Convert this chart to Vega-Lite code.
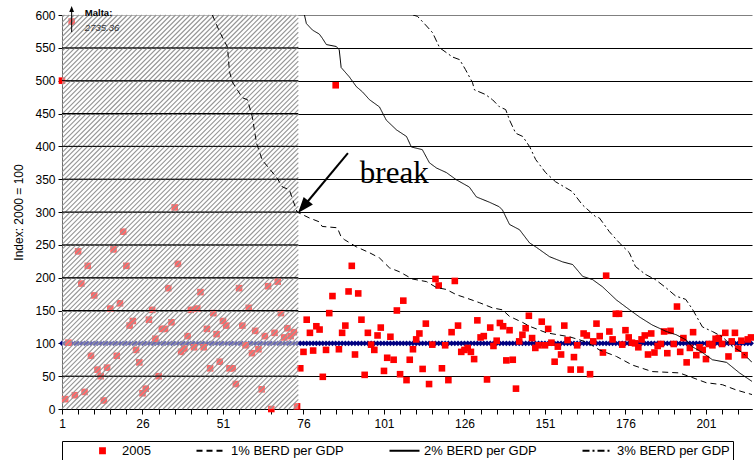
{
  "$schema": "https://vega.github.io/schema/vega-lite/v6.json",
  "width": 690,
  "height": 394,
  "autosize": {"type": "none"},
  "padding": {"left": 62, "top": 15, "right": 2, "bottom": 51},
  "background": "white",
  "config": {
    "font": "Liberation Sans",
    "view": {"stroke": null},
    "axis": {"labelFont": "Liberation Sans", "titleFont": "Liberation Sans", "labelColor": "black", "titleColor": "black"},
    "legend": {"labelFont": "Liberation Sans", "titleFont": "Liberation Sans"}
  },
  "datasets": {
    "pts": [
      {"cat":1,"v":500},{"cat":2,"v":15},{"cat":3,"v":101},{"cat":4,"v":590},{"cat":5,"v":21},{"cat":6,"v":240},{"cat":7,"v":191},{"cat":8,"v":26},{"cat":9,"v":218},{"cat":10,"v":81},
      {"cat":11,"v":173},{"cat":12,"v":60},{"cat":13,"v":50},{"cat":14,"v":13},{"cat":15,"v":63},{"cat":16,"v":153},{"cat":17,"v":243},{"cat":18,"v":81},{"cat":19,"v":161},{"cat":20,"v":270},
      {"cat":21,"v":218},{"cat":22,"v":127},{"cat":23,"v":134},{"cat":24,"v":90},{"cat":25,"v":71},{"cat":26,"v":24},{"cat":27,"v":31},{"cat":28,"v":136},{"cat":29,"v":151},{"cat":30,"v":107},
      {"cat":31,"v":50},{"cat":32,"v":122},{"cat":33,"v":122},{"cat":34,"v":184},{"cat":35,"v":132},{"cat":36,"v":307},{"cat":37,"v":221},{"cat":38,"v":87},{"cat":39,"v":92},{"cat":40,"v":111},
      {"cat":41,"v":151},{"cat":42,"v":94},{"cat":43,"v":153},{"cat":44,"v":178},{"cat":45,"v":94},{"cat":46,"v":122},{"cat":47,"v":62},{"cat":48,"v":146},{"cat":49,"v":114},{"cat":50,"v":72},
      {"cat":51,"v":134},{"cat":52,"v":127},{"cat":53,"v":62},{"cat":54,"v":62},{"cat":55,"v":38},{"cat":56,"v":184},{"cat":57,"v":127},{"cat":58,"v":97},{"cat":59,"v":154},{"cat":60,"v":85},
      {"cat":61,"v":119},{"cat":62,"v":91},{"cat":63,"v":30},{"cat":64,"v":111},{"cat":65,"v":187},{"cat":66,"v":0},{"cat":67,"v":116},{"cat":68,"v":194},{"cat":69,"v":146},{"cat":70,"v":109},
      {"cat":71,"v":123},{"cat":72,"v":111},{"cat":73,"v":117},{"cat":74,"v":4},{"cat":75,"v":62},{"cat":76,"v":87},{"cat":77,"v":136},{"cat":78,"v":116},{"cat":79,"v":89},{"cat":80,"v":126},
      {"cat":81,"v":121},{"cat":82,"v":49},{"cat":83,"v":90},{"cat":84,"v":146},{"cat":85,"v":172},{"cat":86,"v":493},{"cat":87,"v":91},{"cat":88,"v":116},{"cat":89,"v":127},{"cat":90,"v":179},
      {"cat":91,"v":218},{"cat":92,"v":83},{"cat":93,"v":176},{"cat":94,"v":136},{"cat":95,"v":52},{"cat":96,"v":116},{"cat":97,"v":98},{"cat":98,"v":90},{"cat":99,"v":112},{"cat":100,"v":124},
      {"cat":101,"v":58},{"cat":102,"v":78},{"cat":103,"v":110},{"cat":104,"v":75},{"cat":105,"v":150},{"cat":106,"v":53},{"cat":107,"v":165},{"cat":108,"v":44},{"cat":109,"v":75},{"cat":110,"v":91},
      {"cat":111,"v":106},{"cat":112,"v":115},{"cat":113,"v":61},{"cat":114,"v":130},{"cat":115,"v":38},{"cat":116,"v":98},{"cat":117,"v":198},{"cat":118,"v":188},{"cat":119,"v":62},{"cat":120,"v":97},
      {"cat":121,"v":44},{"cat":122,"v":117},{"cat":123,"v":195},{"cat":124,"v":127},{"cat":125,"v":87},{"cat":126,"v":90},{"cat":127,"v":93},{"cat":128,"v":87},{"cat":129,"v":76},{"cat":130,"v":135},
      {"cat":131,"v":109},{"cat":132,"v":111},{"cat":133,"v":45},{"cat":134,"v":124},{"cat":135,"v":96},{"cat":136,"v":104},{"cat":137,"v":131},{"cat":138,"v":126},{"cat":139,"v":74},{"cat":140,"v":120},
      {"cat":141,"v":75},{"cat":142,"v":31},{"cat":143,"v":103},{"cat":144,"v":113},{"cat":145,"v":123},{"cat":146,"v":142},{"cat":147,"v":108},{"cat":148,"v":93},{"cat":149,"v":97},{"cat":150,"v":133},
      {"cat":151,"v":97},{"cat":152,"v":122},{"cat":153,"v":101},{"cat":154,"v":72},{"cat":155,"v":95},{"cat":156,"v":83},{"cat":157,"v":127},{"cat":158,"v":105},{"cat":159,"v":60},{"cat":160,"v":79},
      {"cat":161,"v":97},{"cat":162,"v":60},{"cat":163,"v":115},{"cat":164,"v":112},{"cat":165,"v":53},{"cat":166,"v":103},{"cat":167,"v":130},{"cat":168,"v":111},{"cat":169,"v":86},{"cat":170,"v":203},
      {"cat":171,"v":118},{"cat":172,"v":106},{"cat":173,"v":145},{"cat":174,"v":145},{"cat":175,"v":98},{"cat":176,"v":120},{"cat":177,"v":109},{"cat":178,"v":101},{"cat":179,"v":100},{"cat":180,"v":94},
      {"cat":181,"v":106},{"cat":182,"v":112},{"cat":183,"v":83},{"cat":184,"v":115},{"cat":185,"v":86},{"cat":186,"v":96},{"cat":187,"v":99},{"cat":188,"v":118},{"cat":189,"v":85},{"cat":190,"v":119},
      {"cat":191,"v":99},{"cat":192,"v":156},{"cat":193,"v":87},{"cat":194,"v":108},{"cat":195,"v":71},{"cat":196,"v":93},{"cat":197,"v":117},{"cat":198,"v":82},{"cat":199,"v":94},{"cat":200,"v":90},
      {"cat":201,"v":76},{"cat":202,"v":99},{"cat":203,"v":97},{"cat":204,"v":107},{"cat":205,"v":108},{"cat":206,"v":99},{"cat":207,"v":116},{"cat":208,"v":80},{"cat":209,"v":103},{"cat":210,"v":116},
      {"cat":211,"v":92},{"cat":212,"v":104},{"cat":213,"v":82},{"cat":214,"v":106},{"cat":215,"v":109}
    ],
    "curves": [
      {"s":"1% BERD per GDP","cat":47.7,"v":600},{"s":"1% BERD per GDP","cat":49.9,"v":575},{"s":"1% BERD per GDP","cat":52.4,"v":551},{"s":"1% BERD per GDP","cat":53.0,"v":514},{"s":"1% BERD per GDP","cat":53.9,"v":498},
      {"s":"1% BERD per GDP","cat":57.0,"v":474},{"s":"1% BERD per GDP","cat":58.6,"v":471},{"s":"1% BERD per GDP","cat":60.1,"v":445},{"s":"1% BERD per GDP","cat":61.4,"v":405},{"s":"1% BERD per GDP","cat":63.2,"v":379},
      {"s":"1% BERD per GDP","cat":67.6,"v":353},{"s":"1% BERD per GDP","cat":69.5,"v":338},{"s":"1% BERD per GDP","cat":71.6,"v":334},{"s":"1% BERD per GDP","cat":74.0,"v":300},{"s":"1% BERD per GDP","cat":77.8,"v":291},
      {"s":"1% BERD per GDP","cat":80.9,"v":285},{"s":"1% BERD per GDP","cat":81.8,"v":278},{"s":"1% BERD per GDP","cat":86.5,"v":276},{"s":"1% BERD per GDP","cat":87.7,"v":262},{"s":"1% BERD per GDP","cat":88.7,"v":258},
      {"s":"1% BERD per GDP","cat":92.4,"v":247},{"s":"1% BERD per GDP","cat":96.5,"v":238},{"s":"1% BERD per GDP","cat":99.6,"v":230},{"s":"1% BERD per GDP","cat":102.7,"v":215},{"s":"1% BERD per GDP","cat":105.8,"v":209},
      {"s":"1% BERD per GDP","cat":109.8,"v":198},{"s":"1% BERD per GDP","cat":114.2,"v":194},{"s":"1% BERD per GDP","cat":117.3,"v":185},{"s":"1% BERD per GDP","cat":120.4,"v":182},{"s":"1% BERD per GDP","cat":123.5,"v":174},
      {"s":"1% BERD per GDP","cat":126.6,"v":169},{"s":"1% BERD per GDP","cat":130.6,"v":162},{"s":"1% BERD per GDP","cat":134.7,"v":154},{"s":"1% BERD per GDP","cat":137.8,"v":151},{"s":"1% BERD per GDP","cat":140.0,"v":141},
      {"s":"1% BERD per GDP","cat":144.0,"v":132},{"s":"1% BERD per GDP","cat":146.2,"v":126},{"s":"1% BERD per GDP","cat":151.5,"v":116},{"s":"1% BERD per GDP","cat":158.6,"v":110},{"s":"1% BERD per GDP","cat":163.9,"v":102},
      {"s":"1% BERD per GDP","cat":167.9,"v":90},{"s":"1% BERD per GDP","cat":173.2,"v":80},{"s":"1% BERD per GDP","cat":178.1,"v":67},{"s":"1% BERD per GDP","cat":184.3,"v":57},{"s":"1% BERD per GDP","cat":192.7,"v":55},
      {"s":"1% BERD per GDP","cat":196.7,"v":48},{"s":"1% BERD per GDP","cat":201.1,"v":40},{"s":"1% BERD per GDP","cat":206.1,"v":37},{"s":"1% BERD per GDP","cat":210.4,"v":29},{"s":"1% BERD per GDP","cat":215.3,"v":22},
      {"s":"2% BERD per GDP","cat":76.3,"v":600},{"s":"2% BERD per GDP","cat":76.9,"v":587},{"s":"2% BERD per GDP","cat":78.8,"v":577},{"s":"2% BERD per GDP","cat":80.9,"v":571},{"s":"2% BERD per GDP","cat":81.8,"v":565},
      {"s":"2% BERD per GDP","cat":83.1,"v":555},{"s":"2% BERD per GDP","cat":86.2,"v":552},{"s":"2% BERD per GDP","cat":87.1,"v":547},{"s":"2% BERD per GDP","cat":87.7,"v":520},{"s":"2% BERD per GDP","cat":90.2,"v":506},
      {"s":"2% BERD per GDP","cat":92.4,"v":491},{"s":"2% BERD per GDP","cat":94.3,"v":483},{"s":"2% BERD per GDP","cat":96.5,"v":471},{"s":"2% BERD per GDP","cat":99.6,"v":460},{"s":"2% BERD per GDP","cat":101.7,"v":440},
      {"s":"2% BERD per GDP","cat":104.9,"v":425},{"s":"2% BERD per GDP","cat":108.0,"v":415},{"s":"2% BERD per GDP","cat":109.5,"v":399},{"s":"2% BERD per GDP","cat":112.9,"v":395},{"s":"2% BERD per GDP","cat":115.1,"v":375},
      {"s":"2% BERD per GDP","cat":117.3,"v":367},{"s":"2% BERD per GDP","cat":120.4,"v":360},{"s":"2% BERD per GDP","cat":123.5,"v":349},{"s":"2% BERD per GDP","cat":127.5,"v":338},{"s":"2% BERD per GDP","cat":129.7,"v":323},
      {"s":"2% BERD per GDP","cat":133.7,"v":315},{"s":"2% BERD per GDP","cat":136.8,"v":308},{"s":"2% BERD per GDP","cat":137.8,"v":303},{"s":"2% BERD per GDP","cat":140.0,"v":281},{"s":"2% BERD per GDP","cat":143.1,"v":273},
      {"s":"2% BERD per GDP","cat":146.2,"v":253},{"s":"2% BERD per GDP","cat":148.4,"v":246},{"s":"2% BERD per GDP","cat":152.4,"v":232},{"s":"2% BERD per GDP","cat":156.5,"v":224},{"s":"2% BERD per GDP","cat":159.6,"v":220},
      {"s":"2% BERD per GDP","cat":162.7,"v":202},{"s":"2% BERD per GDP","cat":165.8,"v":197},{"s":"2% BERD per GDP","cat":168.9,"v":186},{"s":"2% BERD per GDP","cat":173.2,"v":166},{"s":"2% BERD per GDP","cat":177.3,"v":151},
      {"s":"2% BERD per GDP","cat":180.4,"v":140},{"s":"2% BERD per GDP","cat":184.3,"v":128},{"s":"2% BERD per GDP","cat":188.7,"v":118},{"s":"2% BERD per GDP","cat":191.8,"v":113},{"s":"2% BERD per GDP","cat":194.9,"v":105},
      {"s":"2% BERD per GDP","cat":196.7,"v":95},{"s":"2% BERD per GDP","cat":199.9,"v":86},{"s":"2% BERD per GDP","cat":203.0,"v":75},{"s":"2% BERD per GDP","cat":207.4,"v":71},{"s":"2% BERD per GDP","cat":211.4,"v":55},
      {"s":"2% BERD per GDP","cat":215.3,"v":42},
      {"s":"3% BERD per GDP","cat":110.0,"v":600},{"s":"3% BERD per GDP","cat":111.4,"v":598},{"s":"3% BERD per GDP","cat":113.9,"v":585},{"s":"3% BERD per GDP","cat":116.1,"v":573},{"s":"3% BERD per GDP","cat":118.3,"v":550},
      {"s":"3% BERD per GDP","cat":122.3,"v":536},{"s":"3% BERD per GDP","cat":124.5,"v":532},{"s":"3% BERD per GDP","cat":126.3,"v":517},{"s":"3% BERD per GDP","cat":128.5,"v":497},{"s":"3% BERD per GDP","cat":129.1,"v":486},
      {"s":"3% BERD per GDP","cat":132.5,"v":479},{"s":"3% BERD per GDP","cat":134.7,"v":471},{"s":"3% BERD per GDP","cat":136.9,"v":460},{"s":"3% BERD per GDP","cat":138.8,"v":456},{"s":"3% BERD per GDP","cat":140.0,"v":440},
      {"s":"3% BERD per GDP","cat":141.9,"v":420},{"s":"3% BERD per GDP","cat":144.1,"v":415},{"s":"3% BERD per GDP","cat":146.3,"v":399},{"s":"3% BERD per GDP","cat":148.1,"v":380},{"s":"3% BERD per GDP","cat":151.2,"v":360},
      {"s":"3% BERD per GDP","cat":154.3,"v":346},{"s":"3% BERD per GDP","cat":159.5,"v":331},{"s":"3% BERD per GDP","cat":162.6,"v":311},{"s":"3% BERD per GDP","cat":166.7,"v":293},{"s":"3% BERD per GDP","cat":167.9,"v":291},
      {"s":"3% BERD per GDP","cat":171.0,"v":270},{"s":"3% BERD per GDP","cat":174.1,"v":253},{"s":"3% BERD per GDP","cat":177.2,"v":238},{"s":"3% BERD per GDP","cat":179.1,"v":217},{"s":"3% BERD per GDP","cat":182.2,"v":205},
      {"s":"3% BERD per GDP","cat":185.3,"v":197},{"s":"3% BERD per GDP","cat":188.5,"v":185},{"s":"3% BERD per GDP","cat":191.6,"v":172},{"s":"3% BERD per GDP","cat":194.7,"v":167},{"s":"3% BERD per GDP","cat":196.8,"v":152},
      {"s":"3% BERD per GDP","cat":199.9,"v":125},{"s":"3% BERD per GDP","cat":203.0,"v":118},{"s":"3% BERD per GDP","cat":206.1,"v":110},{"s":"3% BERD per GDP","cat":209.2,"v":95},{"s":"3% BERD per GDP","cat":212.3,"v":86},
      {"s":"3% BERD per GDP","cat":215.3,"v":71}
    ],
    "region": [{"x1": 1, "x2": 74.4, "y1": 0, "y2": 600}],
    "hatch": [
      {"a":72.9,"b":0,"c":74.4,"d":7.36},{"a":71.4,"b":0,"c":74.4,"d":14.71},{"a":69.9,"b":0,"c":74.4,"d":22.07},{"a":68.4,"b":0,"c":74.4,"d":29.42},{"a":66.9,"b":0,"c":74.4,"d":36.78},
      {"a":65.4,"b":0,"c":74.4,"d":44.13},{"a":63.9,"b":0,"c":74.4,"d":51.49},{"a":62.4,"b":0,"c":74.4,"d":58.84},{"a":60.9,"b":0,"c":74.4,"d":66.2},{"a":59.4,"b":0,"c":74.4,"d":73.55},
      {"a":57.9,"b":0,"c":74.4,"d":80.91},{"a":56.4,"b":0,"c":74.4,"d":88.26},{"a":54.9,"b":0,"c":74.4,"d":95.62},{"a":53.4,"b":0,"c":74.4,"d":102.98},{"a":51.9,"b":0,"c":74.4,"d":110.33},
      {"a":50.4,"b":0,"c":74.4,"d":117.69},{"a":48.9,"b":0,"c":74.4,"d":125.04},{"a":47.4,"b":0,"c":74.4,"d":132.4},{"a":45.9,"b":0,"c":74.4,"d":139.75},{"a":44.4,"b":0,"c":74.4,"d":147.11},
      {"a":42.9,"b":0,"c":74.4,"d":154.46},{"a":41.4,"b":0,"c":74.4,"d":161.82},{"a":39.9,"b":0,"c":74.4,"d":169.17},{"a":38.4,"b":0,"c":74.4,"d":176.53},{"a":36.9,"b":0,"c":74.4,"d":183.89},
      {"a":35.4,"b":0,"c":74.4,"d":191.24},{"a":33.9,"b":0,"c":74.4,"d":198.6},{"a":32.4,"b":0,"c":74.4,"d":205.95},{"a":30.9,"b":0,"c":74.4,"d":213.31},{"a":29.4,"b":0,"c":74.4,"d":220.66},
      {"a":27.9,"b":0,"c":74.4,"d":228.02},{"a":26.4,"b":0,"c":74.4,"d":235.37},{"a":24.9,"b":0,"c":74.4,"d":242.73},{"a":23.4,"b":0,"c":74.4,"d":250.08},{"a":21.9,"b":0,"c":74.4,"d":257.44},
      {"a":20.4,"b":0,"c":74.4,"d":264.79},{"a":18.9,"b":0,"c":74.4,"d":272.15},{"a":17.4,"b":0,"c":74.4,"d":279.51},{"a":15.9,"b":0,"c":74.4,"d":286.86},{"a":14.4,"b":0,"c":74.4,"d":294.22},
      {"a":12.9,"b":0,"c":74.4,"d":301.57},{"a":11.4,"b":0,"c":74.4,"d":308.93},{"a":9.9,"b":0,"c":74.4,"d":316.28},{"a":8.4,"b":0,"c":74.4,"d":323.64},{"a":6.9,"b":0,"c":74.4,"d":330.99},
      {"a":5.4,"b":0,"c":74.4,"d":338.35},{"a":3.9,"b":0,"c":74.4,"d":345.7},{"a":2.4,"b":0,"c":74.4,"d":353.06},
      {"a":1,"b":0.49,"c":74.4,"d":360.41},{"a":1,"b":7.85,"c":74.4,"d":367.77},{"a":1,"b":15.21,"c":74.4,"d":375.13},{"a":1,"b":22.56,"c":74.4,"d":382.48},{"a":1,"b":29.92,"c":74.4,"d":389.84},
      {"a":1,"b":37.27,"c":74.4,"d":397.19},{"a":1,"b":44.63,"c":74.4,"d":404.55},{"a":1,"b":51.98,"c":74.4,"d":411.9},{"a":1,"b":59.34,"c":74.4,"d":419.26},{"a":1,"b":66.69,"c":74.4,"d":426.61},
      {"a":1,"b":74.05,"c":74.4,"d":433.97},{"a":1,"b":81.4,"c":74.4,"d":441.32},{"a":1,"b":88.76,"c":74.4,"d":448.68},{"a":1,"b":96.11,"c":74.4,"d":456.03},{"a":1,"b":103.47,"c":74.4,"d":463.39},
      {"a":1,"b":110.83,"c":74.4,"d":470.75},{"a":1,"b":118.18,"c":74.4,"d":478.1},{"a":1,"b":125.54,"c":74.4,"d":485.46},{"a":1,"b":132.89,"c":74.4,"d":492.81},{"a":1,"b":140.25,"c":74.4,"d":500.17},
      {"a":1,"b":147.6,"c":74.4,"d":507.52},{"a":1,"b":154.96,"c":74.4,"d":514.88},{"a":1,"b":162.31,"c":74.4,"d":522.23},{"a":1,"b":169.67,"c":74.4,"d":529.59},{"a":1,"b":177.02,"c":74.4,"d":536.94},
      {"a":1,"b":184.38,"c":74.4,"d":544.3},{"a":1,"b":191.74,"c":74.4,"d":551.66},{"a":1,"b":199.09,"c":74.4,"d":559.01},{"a":1,"b":206.45,"c":74.4,"d":566.37},{"a":1,"b":213.8,"c":74.4,"d":573.72},
      {"a":1,"b":221.16,"c":74.4,"d":581.08},{"a":1,"b":228.51,"c":74.4,"d":588.43},{"a":1,"b":235.87,"c":74.4,"d":595.79},
      {"a":1,"b":243.22,"c":73.76,"d":600},{"a":1,"b":250.58,"c":72.26,"d":600},{"a":1,"b":257.93,"c":70.76,"d":600},{"a":1,"b":265.29,"c":69.26,"d":600},{"a":1,"b":272.64,"c":67.76,"d":600},
      {"a":1,"b":280.0,"c":66.26,"d":600},{"a":1,"b":287.36,"c":64.76,"d":600},{"a":1,"b":294.71,"c":63.26,"d":600},{"a":1,"b":302.07,"c":61.76,"d":600},{"a":1,"b":309.42,"c":60.26,"d":600},
      {"a":1,"b":316.78,"c":58.76,"d":600},{"a":1,"b":324.13,"c":57.26,"d":600},{"a":1,"b":331.49,"c":55.76,"d":600},{"a":1,"b":338.84,"c":54.26,"d":600},{"a":1,"b":346.2,"c":52.76,"d":600},
      {"a":1,"b":353.55,"c":51.26,"d":600},{"a":1,"b":360.91,"c":49.76,"d":600},{"a":1,"b":368.27,"c":48.26,"d":600},{"a":1,"b":375.62,"c":46.76,"d":600},{"a":1,"b":382.98,"c":45.26,"d":600},
      {"a":1,"b":390.33,"c":43.76,"d":600},{"a":1,"b":397.69,"c":42.26,"d":600},{"a":1,"b":405.04,"c":40.76,"d":600},{"a":1,"b":412.4,"c":39.26,"d":600},{"a":1,"b":419.75,"c":37.76,"d":600},
      {"a":1,"b":427.11,"c":36.26,"d":600},{"a":1,"b":434.46,"c":34.76,"d":600},{"a":1,"b":441.82,"c":33.26,"d":600},{"a":1,"b":449.17,"c":31.76,"d":600},{"a":1,"b":456.53,"c":30.26,"d":600},
      {"a":1,"b":463.89,"c":28.76,"d":600},{"a":1,"b":471.24,"c":27.26,"d":600},{"a":1,"b":478.6,"c":25.76,"d":600},{"a":1,"b":485.95,"c":24.26,"d":600},{"a":1,"b":493.31,"c":22.76,"d":600},
      {"a":1,"b":500.66,"c":21.26,"d":600},{"a":1,"b":508.02,"c":19.76,"d":600},{"a":1,"b":515.37,"c":18.26,"d":600},{"a":1,"b":522.73,"c":16.76,"d":600},{"a":1,"b":530.08,"c":15.26,"d":600},
      {"a":1,"b":537.44,"c":13.76,"d":600},{"a":1,"b":544.8,"c":12.26,"d":600},{"a":1,"b":552.15,"c":10.76,"d":600},{"a":1,"b":559.51,"c":9.26,"d":600},{"a":1,"b":566.86,"c":7.76,"d":600},
      {"a":1,"b":574.22,"c":6.26,"d":600},{"a":1,"b":581.57,"c":4.76,"d":600},{"a":1,"b":588.93,"c":3.26,"d":600},{"a":1,"b":596.28,"c":1.76,"d":600}
    ],
    "grid": [{"g":50},{"g":150},{"g":200},{"g":250},{"g":300},{"g":350},{"g":400},{"g":450},{"g":500},{"g":550}],
    "breakArrow": [{"x1": 89.8, "y1": 389.8, "x2": 76.2, "y2": 309.5}],
    "breakHead": [{"cat": 75.9, "v": 307.8}],
    "breakText": [{"cat": 93.5, "v": 344, "t": "break"}],
    "maltaArrow": [{"x1": 4, "y1": 574, "x2": 4, "y2": 606}],
    "maltaHead": [{"cat": 4, "v": 609}],
    "maltaName": [{"cat": 8.1, "v": 598.5, "t": "Malta:"}],
    "maltaValue": [{"cat": 8.1, "v": 576, "t": "2735.36"}]
  },
  "layer": [
    {
      "data": {"name": "pts"},
      "mark": {"type": "line", "color": "#000080", "strokeWidth": 1.5, "point": {"shape": "diamond", "size": 34, "color": "#000080", "filled": true}},
      "encoding": {
        "x": {
          "field": "cat", "type": "quantitative",
          "scale": {"domain": [1, 215.3], "nice": false, "zero": false},
          "axis": {
            "values": [1,6,11,16,21,26,31,36,41,46,51,56,61,66,71,76,81,86,91,96,101,106,111,116,121,126,131,136,141,146,151,156,161,166,171,176,181,186,191,196,201,206,211],
            "tickCount": 60,
            "labelExpr": "(datum.value - 1) % 25 === 0 ? datum.label : ''",
            "format": "d", "grid": false, "tickSize": 5, "tickColor": "black", "domainColor": "black",
            "labelFontSize": 12, "labelPadding": 4, "labelFlush": false, "labelOverlap": false, "title": null
          }
        },
        "y": {
          "datum": 100, "type": "quantitative",
          "scale": {"domain": [0, 600], "nice": false, "zero": true},
          "axis": {
            "values": [0,50,100,150,200,250,300,350,400,450,500,550,600],
            "tickCount": 20,
            "grid": true,
            "gridColor": {"condition": {"test": "datum.value === 600", "value": "#808080"}, "value": "black"},
            "gridWidth": 1, "tickSize": 4, "tickColor": "black", "domainColor": "black",
            "labelFontSize": 12, "labelPadding": 3, "labelOverlap": false,
            "title": "Index: 2000 = 100", "titleFontSize": 12, "titleFontWeight": "normal", "titlePadding": 9
          }
        }
      }
    },
    {
      "data": {"name": "pts"},
      "mark": {"type": "point", "size": 121, "filled": true, "opacity": 1, "strokeWidth": 0},
      "encoding": {
        "x": {"field": "cat", "type": "quantitative"},
        "y": {"field": "v", "type": "quantitative"},
        "color": {
          "datum": "2005", "type": "nominal",
          "scale": {"domain": ["2005", "1% BERD per GDP", "2% BERD per GDP", "3% BERD per GDP"], "range": ["#ff0000", "black", "black", "black"]},
          "legend": {
            "orient": "none", "legendX": 0, "legendY": 426, "direction": "horizontal",
            "title": null,
            "symbolSize": 64, "symbolStrokeWidth": 2, "symbolOffset": 31,
            "labelFontSize": 13, "labelColor": "black", "labelOffset": 13, "columnPadding": 23,
            "strokeColor": "black", "fillColor": "white", "padding": 3
          }
        },
        "shape": {
          "datum": "2005", "type": "nominal",
          "scale": {"domain": ["2005", "1% BERD per GDP", "2% BERD per GDP", "3% BERD per GDP"], "range": ["M-0.6,-0.6H0.6V0.6H-0.6Z", "M-3.75,0H3.75", "M-3.75,0H3.75", "M-3.75,0H3.75"]},
          "legend": {"title": null}
        }
      }
    },
    {
      "data": {"name": "region"},
      "mark": {"type": "rect", "fill": "white", "opacity": 0.42},
      "encoding": {
        "x": {"field": "x1", "type": "quantitative"}, "x2": {"field": "x2"},
        "y": {"field": "y1", "type": "quantitative"}, "y2": {"field": "y2"}
      }
    },
    {
      "data": {"name": "hatch"},
      "mark": {"type": "rule", "stroke": "#959595", "strokeWidth": 1.1},
      "encoding": {
        "x": {"field": "a", "type": "quantitative"}, "y": {"field": "b", "type": "quantitative"},
        "x2": {"field": "c"}, "y2": {"field": "d"}
      }
    },
    {
      "data": {"name": "grid"},
      "mark": {"type": "rule", "stroke": "black", "strokeWidth": 1},
      "encoding": {
        "x": {"datum": 1, "type": "quantitative"}, "x2": {"datum": 74.4},
        "y": {"field": "g", "type": "quantitative"}
      }
    },
    {
      "data": {"name": "curves"},
      "mark": {"type": "line", "strokeWidth": 1, "clip": true},
      "encoding": {
        "x": {"field": "cat", "type": "quantitative"},
        "y": {"field": "v", "type": "quantitative"},
        "color": {"field": "s", "type": "nominal", "legend": {"title": null}},
        "strokeDash": {"field": "s", "type": "nominal", "scale": {"domain": ["2005", "1% BERD per GDP", "2% BERD per GDP", "3% BERD per GDP"], "range": [[1, 0], [6, 4], [1, 0], [7, 3, 2, 3]]}, "legend": {"title": null}}
      }
    },
    {
      "data": {"name": "breakArrow"},
      "mark": {"type": "rule", "stroke": "black", "strokeWidth": 2},
      "encoding": {
        "x": {"field": "x1", "type": "quantitative"}, "y": {"field": "y1", "type": "quantitative"},
        "x2": {"field": "x2"}, "y2": {"field": "y2"}
      }
    },
    {
      "data": {"name": "breakHead"},
      "mark": {"type": "point", "shape": "M0,-1L0.75,1L-0.75,1Z", "size": 256, "angle": 219.8, "filled": true, "color": "black", "opacity": 1},
      "encoding": {
        "x": {"field": "cat", "type": "quantitative"}, "y": {"field": "v", "type": "quantitative"}
      }
    },
    {
      "data": {"name": "breakText"},
      "mark": {"type": "text", "font": "Liberation Serif", "fontSize": 31, "align": "left", "baseline": "alphabetic", "color": "black"},
      "encoding": {
        "x": {"field": "cat", "type": "quantitative"}, "y": {"field": "v", "type": "quantitative"},
        "text": {"field": "t"}
      }
    },
    {
      "data": {"name": "maltaArrow"},
      "mark": {"type": "rule", "stroke": "black", "strokeWidth": 1},
      "encoding": {
        "x": {"field": "x1", "type": "quantitative"}, "y": {"field": "y1", "type": "quantitative"},
        "x2": {"field": "x2"}, "y2": {"field": "y2"}
      }
    },
    {
      "data": {"name": "maltaHead"},
      "mark": {"type": "point", "shape": "M0,-1L0.8,1L-0.8,1Z", "size": 36, "filled": true, "color": "black", "opacity": 1},
      "encoding": {
        "x": {"field": "cat", "type": "quantitative"}, "y": {"field": "v", "type": "quantitative"}
      }
    },
    {
      "data": {"name": "maltaName"},
      "mark": {"type": "text", "fontSize": 9.5, "fontWeight": "bold", "align": "left", "baseline": "alphabetic", "color": "black"},
      "encoding": {
        "x": {"field": "cat", "type": "quantitative"}, "y": {"field": "v", "type": "quantitative"},
        "text": {"field": "t"}
      }
    },
    {
      "data": {"name": "maltaValue"},
      "mark": {"type": "text", "fontSize": 9.5, "fontStyle": "italic", "align": "left", "baseline": "alphabetic", "color": "#333333"},
      "encoding": {
        "x": {"field": "cat", "type": "quantitative"}, "y": {"field": "v", "type": "quantitative"},
        "text": {"field": "t"}
      }
    }
  ]
}
